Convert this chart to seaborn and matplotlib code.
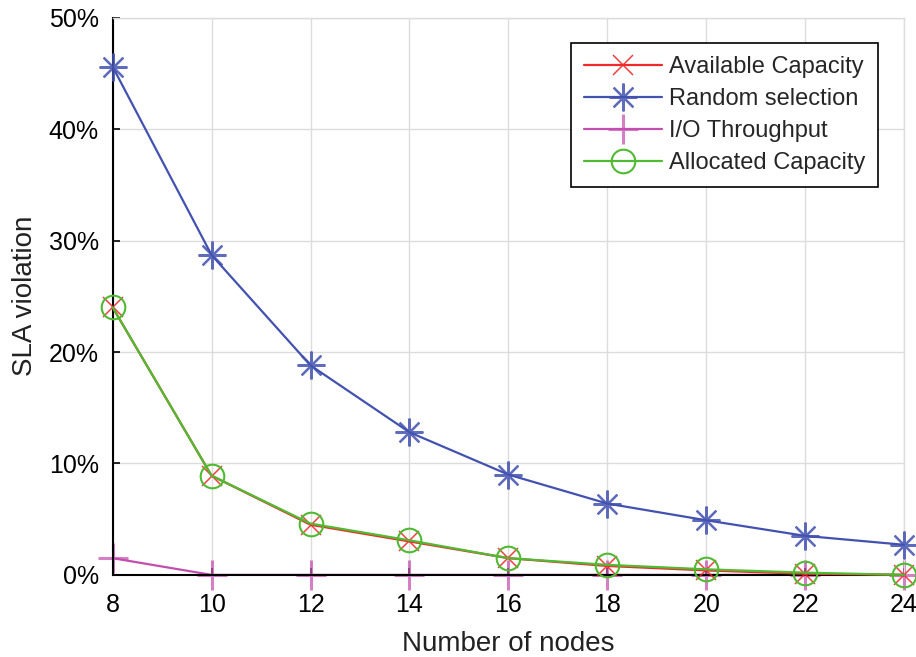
import matplotlib
matplotlib.use("Agg")
import matplotlib.pyplot as plt
import matplotlib.colors as mcolors
import seaborn as sns
import pandas as pd
from matplotlib.ticker import FuncFormatter

nodes = [8, 10, 12, 14, 16, 18, 20, 22, 24]
available = [24.0, 8.9, 4.5, 3.0, 1.5, 0.8, 0.4, 0.1, 0.0]
random_sel = [45.6, 28.7, 18.8, 12.8, 9.0, 6.4, 4.9, 3.5, 2.7]
io_throughput = [1.5, 0.0, 0.0, 0.0, 0.0, 0.0, 0.0, 0.0, 0.0]
allocated = [24.0, 8.9, 4.6, 3.1, 1.5, 0.9, 0.5, 0.2, 0.0]

labels = ["Available Capacity", "Random selection", "I/O Throughput", "Allocated Capacity"]
series_list = [available, random_sel, io_throughput, allocated]

sns.set_theme(style="white")
plt.rcParams['font.family'] = ['Liberation Sans', 'DejaVu Sans']

fig = plt.figure(figsize=(9.16, 6.57), dpi=100)
ax = fig.add_axes([0.123, 0.125, 0.864, 0.848])

styles = {
    "Available Capacity": dict(color="#f02a2a", marker="x", ms=14, mew=1.1, malpha=0.9, zorder=4),
    "Random selection": dict(color="#4352b0", marker=(8, 2, 0), ms=20, mew=1.6, malpha=0.85, zorder=3),
    "I/O Throughput": dict(color="#c24fae", marker="+", ms=22, mew=2.2, malpha=0.72, zorder=2),
    "Allocated Capacity": dict(color="#4fba32", marker="o", ms=17, mew=1.5, malpha=1.0, zorder=5),
}

for lab, vals in zip(labels, series_list):
    df = pd.DataFrame({"Nodes": nodes, "Value": vals})
    st = styles[lab]
    mec = mcolors.to_rgba(st["color"], st["malpha"])
    sns.lineplot(data=df, x="Nodes", y="Value", ax=ax, color=st["color"],
                 marker=st["marker"], markersize=st["ms"], markeredgewidth=st["mew"],
                 markerfacecolor="none", markeredgecolor=mec,
                 linewidth=1.6, label=lab, zorder=st["zorder"], clip_on=False)

ax.set_xlim(8, 24)
ax.set_ylim(0, 50)
ax.set_xticks(nodes)
ax.set_yticks([0, 10, 20, 30, 40, 50])
ax.yaxis.set_major_formatter(FuncFormatter(lambda v, p: f"{int(v)}%"))
ax.grid(True, color="#dcdcdc", linewidth=1.0)
ax.set_axisbelow(True)
for s in ["left", "bottom"]:
    ax.spines[s].set_color("black")
    ax.spines[s].set_linewidth(1.5)
for s in ["top", "right"]:
    ax.spines[s].set_color("#dcdcdc")
    ax.spines[s].set_linewidth(1.0)
ax.tick_params(axis="both", labelsize=18, colors="black", length=5, direction="in",
               left=True, bottom=True, width=1.2)
ax.tick_params(axis="x", pad=13)
ax.tick_params(axis="y", pad=10)
ax.set_xlabel("Number of nodes", fontsize=20, color="#222222", labelpad=10)
ax.set_ylabel("SLA violation", fontsize=20, color="#222222", labelpad=8)

leg = ax.legend(loc="upper right", bbox_to_anchor=(0.967, 0.955), fontsize=17,
                frameon=True, fancybox=False, edgecolor="black", framealpha=1,
                handlelength=3.3, borderpad=0.55, labelspacing=0.43, handletextpad=0.3,
                borderaxespad=0.0)
leg.get_frame().set_linewidth(1.2)

fig.savefig("out.png", dpi=100)
